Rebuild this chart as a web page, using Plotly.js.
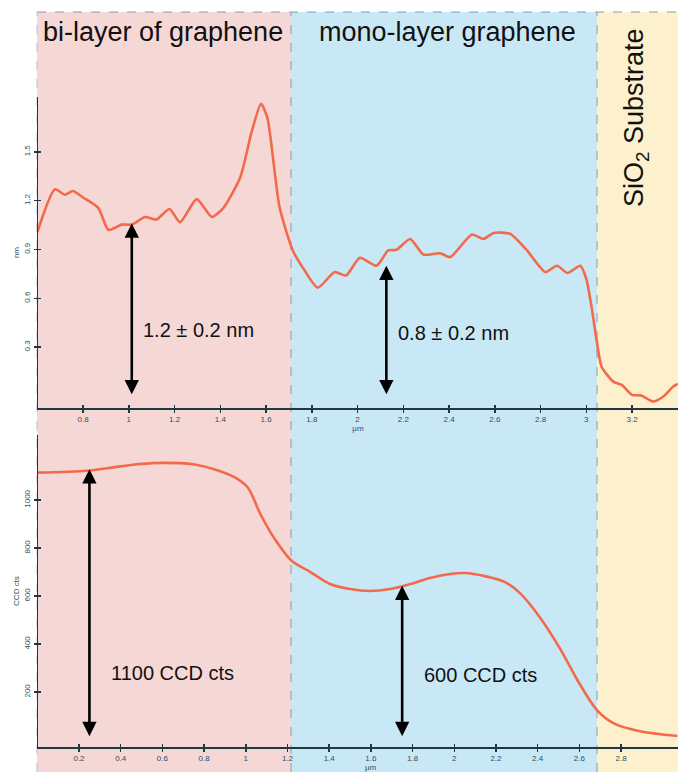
<!DOCTYPE html>
<html>
<head>
<meta charset="utf-8">
<script src="https://cdn.plot.ly/plotly-3.0.1.min.js"></script>
<style>html,body{margin:0;padding:0;background:#fff;}#chart{width:678px;height:772px;}</style>
</head>
<body>
<div id="chart"></div>
<script>
// Top panel: AFM height profile (nm vs µm)
const heightX = [0.60,0.677,0.721,0.755,0.80,0.867,0.911,0.969,1.013,1.071,1.12,1.178,1.224,1.297,1.363,1.413,1.487,1.538,1.578,1.606,1.659,1.717,1.76,1.826,1.90,1.95,2.01,2.083,2.134,2.17,2.23,2.288,2.361,2.405,2.50,2.55,2.595,2.668,2.741,2.821,2.872,2.918,2.974,3.00,3.023,3.045,3.067,3.118,3.155,3.20,3.24,3.293,3.337,3.38,3.40];
const heightY = [1.006,1.27,1.237,1.26,1.22,1.155,1.02,1.053,1.053,1.10,1.084,1.149,1.067,1.21,1.10,1.155,1.343,1.629,1.796,1.71,1.16,0.894,0.79,0.665,0.761,0.74,0.849,0.80,0.894,0.898,0.965,0.869,0.877,0.853,0.992,0.965,1.002,0.996,0.894,0.761,0.80,0.755,0.80,0.72,0.547,0.343,0.179,0.087,0.067,0.006,0.002,-0.035,-0.004,0.057,0.073];

// Bottom panel: Raman intensity profile (CCD cts vs µm)
const ccdX = [0.0,0.237,0.364,0.492,0.604,0.748,0.86,0.956,1.012,1.068,1.132,1.22,1.308,1.404,1.50,1.596,1.692,1.788,1.883,1.98,2.05,2.147,2.243,2.315,2.41,2.506,2.593,2.684,2.77,2.89,3.07];
const ccdY = [1114,1122,1136,1150,1155,1149,1125,1090,1049,945,847,747,701,650,629,621,629,650,675,692,696,683,658,612,512,383,246,125,67,37,17];

const topTickVals = [0.8,1,1.2,1.4,1.6,1.8,2,2.2,2.4,2.6,2.8,3,3.2];
const topTickText = ['0.8','1','1.2','1.4','1.6','1.8','2','2.2','2.4','2.6','2.8','3','3.2'];
const topYTickVals = [0.3,0.6,0.9,1.2,1.5];
const topYTickText = ['0.3','0.6','0.9','1.2','1.5'];
const botTickVals = [0.2,0.4,0.6,0.8,1,1.2,1.4,1.6,1.8,2,2.2,2.4,2.6,2.8];
const botTickText = ['0.2','0.4','0.6','0.8','1','1.2','1.4','1.6','1.8','2','2.2','2.4','2.6','2.8'];
const botYTickVals = [200,400,600,800,1000];
const botYTickText = ['200','400','600','800','1000'];

const regionLabels = ['bi-layer of graphene','mono-layer graphene','SiO<sub>2</sub> Substrate'];
const arrowLabels = ['1.2 ± 0.2 nm','0.8 ± 0.2 nm','1100 CCD cts','600 CCD cts'];
const axisLabels = ['µm','nm','µm','CCD cts'];

const W = 678, H = 772;
const px = v => v / W;
const py = v => 1 - v / H;

const lineColor = '#f26a4b';
const axisColor = '#1e3846';
const smallFont = {family:'Liberation Sans, Arial, sans-serif', size:8, color:'#2f4e60'};

const topXRange = [0.603, 3.401];
const topYRange = [-0.075, 1.838];
const botXRange = [0.0034, 3.073];
const botYRange = [-29, 1271];

const xDom = [px(38), 1];
const topYDom = [py(408), py(97)];
const botYDom = [py(747), py(435)];

const traces = [
  {x: heightX, y: heightY, xaxis:'x', yaxis:'y', mode:'lines', line:{color:lineColor, width:2.6, shape:'spline', smoothing:0.6}, hoverinfo:'skip'},
  {x: ccdX, y: ccdY, xaxis:'x2', yaxis:'y2', mode:'lines', line:{color:lineColor, width:2.6, shape:'spline', smoothing:0.8}, hoverinfo:'skip'},
  // transparent copies that carry the inward half of the tick marks
  {x: heightX, y: heightY, xaxis:'x3', yaxis:'y3', mode:'lines', line:{color:'rgba(0,0,0,0)', width:0}, hoverinfo:'skip'},
  {x: ccdX, y: ccdY, xaxis:'x4', yaxis:'y4', mode:'lines', line:{color:'rgba(0,0,0,0)', width:0}, hoverinfo:'skip'}
];

function xAxis(range, vals, text, anchor, titleText) {
  return {domain:xDom, range:range, anchor:anchor, tickmode:'array', tickvals:vals, ticktext:text,
    ticks:'outside', ticklen:3, tickwidth:1.5, tickcolor:axisColor, showline:true, linecolor:axisColor, linewidth:1.5,
    showgrid:false, zeroline:false, tickfont:smallFont, fixedrange:true,
    title:{text:titleText, font:smallFont, standoff:0}};
}
function yAxis(range, dom, vals, text, anchor, titleText) {
  return {domain:dom, range:range, anchor:anchor, tickmode:'array', tickvals:vals, ticktext:text,
    ticks:'outside', ticklen:3, tickwidth:1.5, tickcolor:axisColor, showline:true, linecolor:axisColor, linewidth:1.5,
    showgrid:false, zeroline:false, tickfont:smallFont, tickangle:-90, fixedrange:true,
    title:{text:titleText, font:smallFont, standoff:2}};
}
function innerX(range, vals, over, anchor) {
  return {domain:xDom, range:range, overlaying:over, anchor:anchor, tickmode:'array', tickvals:vals,
    ticks:'inside', ticklen:3, tickwidth:1.5, tickcolor:axisColor, showline:false, showgrid:false, zeroline:false,
    showticklabels:false, fixedrange:true};
}
function innerY(range, vals, over, anchor) {
  return {range:range, overlaying:over, anchor:anchor, tickmode:'array', tickvals:vals,
    ticks:'inside', ticklen:3, tickwidth:1.5, tickcolor:axisColor, showline:false, showgrid:false, zeroline:false,
    showticklabels:false, fixedrange:true};
}

const dashColor = '#7f9fb1';
const shapes = [
  {type:'rect', xref:'paper', yref:'paper', x0:px(37), x1:px(291), y0:0, y1:py(12), fillcolor:'#f5d7d6', line:{width:0}, layer:'below'},
  {type:'rect', xref:'paper', yref:'paper', x0:px(291), x1:px(597), y0:0, y1:py(12), fillcolor:'#c9e8f6', line:{width:0}, layer:'below'},
  {type:'rect', xref:'paper', yref:'paper', x0:px(597), x1:1, y0:0, y1:py(12), fillcolor:'#fdf1cd', line:{width:0}, layer:'below'},
  {type:'line', xref:'paper', yref:'paper', x0:px(37), x1:1, y0:py(12), y1:py(12), line:{color:dashColor, width:1, dash:'dash'}, layer:'below'},
  {type:'line', xref:'paper', yref:'paper', x0:px(37), x1:px(37), y0:0, y1:py(12), line:{color:'#a9c6d6', width:1, dash:'dash'}, layer:'below'},
  {type:'line', xref:'paper', yref:'paper', x0:px(291), x1:px(291), y0:0, y1:py(12), line:{color:dashColor, width:1, dash:'dash'}, layer:'below'},
  {type:'line', xref:'paper', yref:'paper', x0:px(597), x1:px(597), y0:0, y1:py(12), line:{color:dashColor, width:1, dash:'dash'}, layer:'below'}
];

const hdrFont = {family:'Liberation Sans, Arial, sans-serif', size:27, color:'#111'};
const lblFont = {family:'Liberation Sans, Arial, sans-serif', size:20, color:'#111'};

function arrow(xref, yref, x, y0, y1) {
  return {xref:xref, yref:yref, axref:xref, ayref:yref, x:x, y:y1, ax:x, ay:y0, text:'', showarrow:true,
    arrowhead:2, startarrowhead:2, arrowside:'end+start', arrowsize:1.1, startarrowsize:1.1, arrowwidth:2.6, arrowcolor:'#000'};
}
function label(x, y, text, font, extra) {
  return Object.assign({xref:'paper', yref:'paper', x:px(x), y:py(y), text:text, showarrow:false, font:font,
    xanchor:'center', yanchor:'middle'}, extra || {});
}

const annotations = [
  label(163, 32, regionLabels[0], hdrFont),
  label(447, 32, regionLabels[1], hdrFont),
  label(636, 118, regionLabels[2], hdrFont, {textangle:-90}),
  label(198, 330, arrowLabels[0], lblFont),
  label(453, 333, arrowLabels[1], lblFont),
  label(172, 673, arrowLabels[2], lblFont),
  label(481, 675, arrowLabels[3], lblFont),
  label(371, 767, axisLabels[2], smallFont),
  arrow('x','y', 1.013, 0.0, 1.06),
  arrow('x','y', 2.126, 0.0, 0.80),
  arrow('x2','y2', 0.25, 10, 1128),
  arrow('x2','y2', 1.75, 10, 643)
];

const layout = {
  width:W, height:H, margin:{l:0, r:0, t:0, b:0}, showlegend:false,
  paper_bgcolor:'#ffffff', plot_bgcolor:'rgba(0,0,0,0)',
  xaxis: xAxis(topXRange, topTickVals, topTickText, 'y', axisLabels[0]),
  yaxis: yAxis(topYRange, topYDom, topYTickVals, topYTickText, 'x', axisLabels[1]),
  xaxis2: xAxis(botXRange, botTickVals, botTickText, 'y2', ''),
  yaxis2: yAxis(botYRange, botYDom, botYTickVals, botYTickText, 'x2', axisLabels[3]),
  xaxis3: innerX(topXRange, topTickVals, 'x', 'y3'),
  yaxis3: innerY(topYRange, topYTickVals, 'y', 'x3'),
  xaxis4: innerX(botXRange, botTickVals, 'x2', 'y4'),
  yaxis4: innerY(botYRange, botYTickVals, 'y2', 'x4'),
  shapes: shapes,
  annotations: annotations
};

Plotly.newPlot('chart', traces, layout, {displayModeBar:false, staticPlot:true});
</script>
</body>
</html>
